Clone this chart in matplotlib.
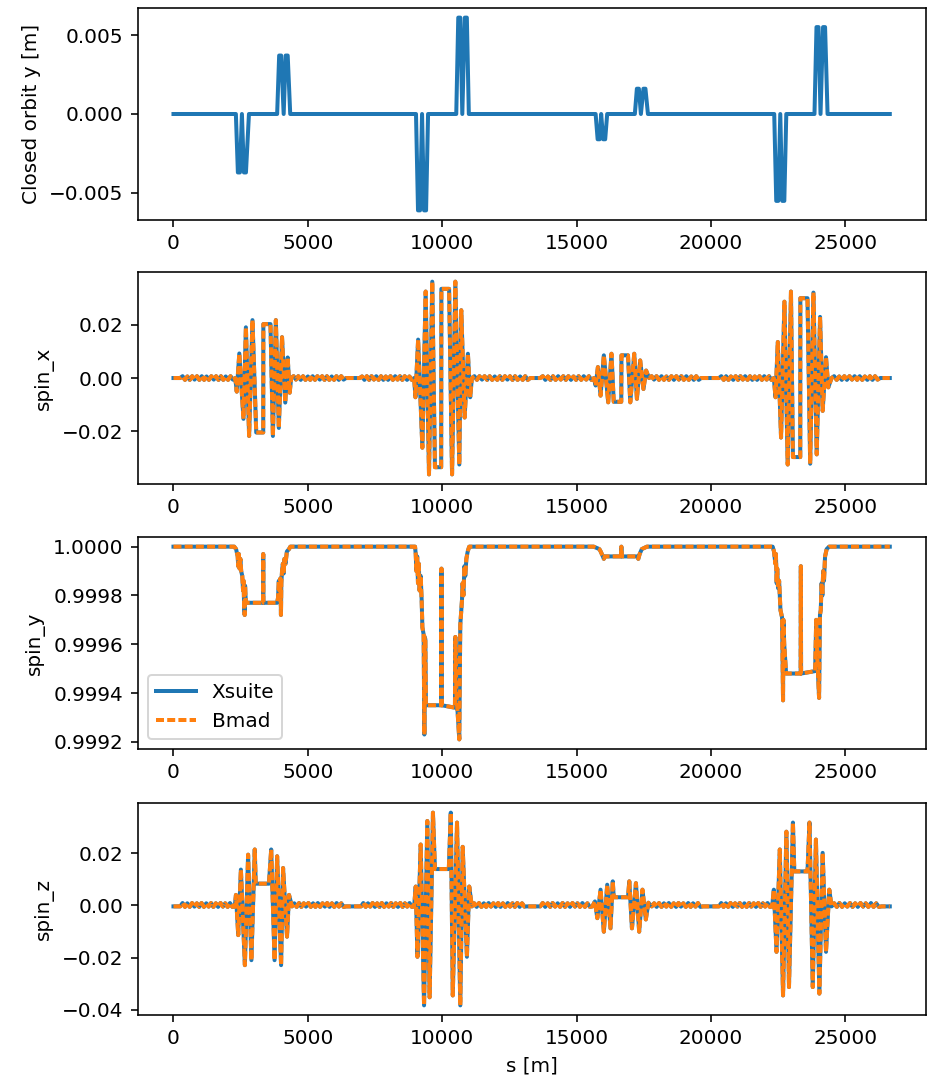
import numpy as np
import matplotlib
matplotlib.use("Agg")
import matplotlib.pyplot as plt

ring_end = 26659.0

# closed orbit y [m], four double bumps per side of the IRs
orbit_s = [0,
           2322, 2397, 2472, 2547, 2622, 2697, 2809,
           3858, 3933, 4008, 4101, 4176, 4251, 4345,
           9026, 9101, 9176, 9251, 9326, 9401, 9475,
           10524, 10599, 10674, 10749, 10843, 10918, 10992,
           15711, 15786, 15860, 15917, 15992, 16067, 16141,
           17171, 17246, 17321, 17396, 17490, 17565, 17658,
           22358, 22433, 22508, 22583, 22658, 22733, 22807,
           23856, 23931, 24006, 24081, 24175, 24250, 24343,
           ring_end]
orbit_y = [0,
           0, -0.0037, -0.0037, 0, -0.0037, -0.0037, 0,
           0, 0.0037, 0.0037, 0, 0.0037, 0.0037, 0,
           0, -0.0061, -0.0061, 0, -0.0061, -0.0061, 0,
           0, 0.0061, 0.0061, 0, 0.0061, 0.0061, 0,
           0, -0.0016, -0.0016, 0, -0.0016, -0.0016, 0,
           0, 0.0016, 0.0016, 0, 0.0016, 0.0016, 0,
           0, -0.0055, -0.0055, 0, -0.0055, -0.0055, 0,
           0, 0.0055, 0.0055, 0, 0.0055, 0.0055, 0,
           0]

# ---------------- spin_x ----------------
sx_ir2_s = [2300, 2355, 2450, 2605, 2695, 2815, 2940, 3080, 3340, 3345,
            3610, 3700, 3810, 3920, 4040, 4160, 4250, 4325, 4380]
sx_ir2_v = [0, -0.0051, 0.0092, -0.0153, 0.0190, -0.0217, 0.0217, -0.0204, -0.0204, 0.0202,
            0.0202, -0.0217, 0.0217, -0.0187, 0.0153, -0.0092, 0.0077, -0.0055, 0]
sx_ir4_s = [8957, 9005, 9105, 9263, 9385, 9510, 9631, 9731, 9963, 9970,
            10258, 10368, 10490, 10637, 10711, 10836, 10958, 11043, 11105]
sx_ir4_v = [0, -0.0072, 0.0144, -0.0261, 0.0324, -0.0361, 0.0361, -0.0334, -0.0334, 0.0334,
            0.0334, -0.0361, 0.0361, -0.0324, 0.0254, -0.0148, 0.0091, -0.0072, 0]
sx_ir6_s = [15650, 15711, 15796, 15895, 16017, 16179, 16301, 16385, 16665, 16672,
            16916, 17001, 17148, 17248, 17369, 17491, 17590, 17700]
sx_ir6_v = [0, -0.0028, 0.0041, -0.0066, 0.0085, -0.0091, 0.0091, -0.0089, -0.0089, 0.0085,
            0.0085, -0.0091, 0.0091, -0.0078, 0.0066, -0.0041, 0.0028, 0]
sx_ir8_s = [22343, 22406, 22491, 22612, 22738, 22859, 22981, 23054, 23327, 23330,
            23596, 23696, 23817, 23939, 24064, 24160, 24285, 24370, 24492]
sx_ir8_v = [0, -0.0072, 0.0135, -0.0223, 0.0286, -0.0324, 0.0324, -0.0296, -0.0296, 0.0299,
            0.0299, -0.0321, 0.0320, -0.0286, 0.0229, -0.0123, 0.0078, -0.0035, 0]

# small wiggle in the arcs
sx_arc1 = [0, 0.0007, -0.0007, 0.0006, -0.0007, 0.0007, -0.0006, 0.0007, -0.0007, 0.0007, -0.0007, 0.0006,
           -0.0007, 0.0007, -0.0006, 0.0007, -0.0007, 0.0007, -0.0007, 0.0006, -0.0007, 0.0007, -0.0006, 0]
sx_arc2 = [0, 0.0007, -0.0006, 0.0007, -0.0007, 0.0007, -0.0007, 0.0006, -0.0007, 0.0007, -0.0007, 0.0007,
           -0.0006, 0.0007, -0.0007, 0.0007, -0.0007, 0.0006, -0.0007, 0.0007, -0.0007, 0.0007, -0.0006, 0]
sx_arc3 = [0, 0.0006, -0.0007, 0.0007, -0.0007, 0.0007, -0.0006, 0.0007, -0.0007, 0.0007, -0.0007, 0.0006,
           -0.0007, 0.0007, -0.0007, 0.0007, -0.0006, 0.0007, -0.0007, 0.0007, -0.0007, 0.0006, -0.0007, 0]
sx_arc4 = [0, 0.0007, -0.0007, 0.0007, -0.0006, 0.0007, -0.0007, 0.0007, -0.0007, 0.0006, -0.0007, 0.0007,
           -0.0007, 0.0007, -0.0006, 0.0007, -0.0007, 0.0007, -0.0007, 0.0006, -0.0007, 0.0007, -0.0007, 0]
sx_arc5 = [0, 0.0007, -0.0007, 0.0006, -0.0007, 0.0007, -0.0007, 0.0007, -0.0006, 0.0007, -0.0007,
           0.0007, -0.0007, 0.0006, -0.0007, 0.0007, -0.0007, 0.0007, -0.0006, 0.0007, -0.0007, 0]
sx_arc6 = [0, 0.0007, -0.0006, 0.0007, -0.0007, 0.0007, -0.0007, 0.0006, -0.0007, 0.0007, -0.0007,
           0.0007, -0.0006, 0.0007, -0.0007, 0.0007, -0.0007, 0.0006, -0.0007, 0.0007, -0.0007, 0]
sx_arc7 = [0, 0.0007, -0.0007, 0.0007, -0.0007, 0.0006, -0.0007, 0.0007, -0.0007, 0.0007, -0.0006, 0.0007,
           -0.0007, 0.0007, -0.0007, 0.0006, -0.0007, 0.0007, -0.0007, 0.0007, -0.0006, 0.0007, -0.0007, 0]
sx_arc8 = [0, 0.0007, -0.0007, 0.0006, -0.0007, 0.0007, -0.0007, 0.0007, -0.0006, 0.0007,
           -0.0007, 0.0007, -0.0007, 0.0006, -0.0007, 0.0007, -0.0007, 0.0007, -0.0006, 0]
sx_arc_ends = [(250, 2300), (4380, 6420), (6930, 8957), (11105, 13280),
               (13650, 15650), (17700, 19640), (20300, 22343), (24492, 26300)]

# ---------------- spin_y ----------------
sy_ir2_s = [2260, 2330, 2390, 2410, 2430, 2460, 2490, 2520, 2560, 2590, 2610, 2630, 2650, 2665, 2690, 2720,
            3335, 3340, 3345, 3860, 3890, 3920, 3950, 3980, 4000, 4015, 4040, 4070, 4100, 4130, 4170,
            4220, 4300, 4350]
sy_ir2_v = [1.0, 0.99999, 0.99996, 0.99992, 0.99997, 0.99991, 0.99995, 0.99990, 0.99988, 0.99982, 0.99986,
            0.99975, 0.99972, 0.99984, 0.99978, 0.99977, 0.99977, 0.99997, 0.99977, 0.99977, 0.99979,
            0.99986, 0.99981, 0.99987, 0.99972, 0.99985, 0.99990, 0.99993, 0.99989, 0.99995, 0.99993,
            0.99998, 0.99999, 1.0]
sy_ir4_s = [8990, 9016, 9040, 9070, 9100, 9130, 9160, 9200, 9237, 9263, 9310, 9337, 9350, 9375, 9395,
            9965, 9974, 9983, 10475, 10490, 10530, 10637, 10674, 10737, 10760, 10790, 10830, 10860,
            10900, 10950, 11006]
sy_ir4_v = [1.0, 0.99997, 0.99990, 0.99996, 0.99985, 0.99993, 0.99982, 0.99988, 0.99978, 0.99967, 0.99964,
            0.99923, 0.99963, 0.99962, 0.99935, 0.99935, 0.99991, 0.99935, 0.99934, 0.99963, 0.99940,
            0.99921, 0.99968, 0.99978, 0.99985, 0.99980, 0.99992, 0.99988, 0.99995, 0.99998, 1.0]
sy_ir6_s = [15640, 15850, 15900, 15980, 16017, 16050, 16080, 16660, 16669, 16678, 17250, 17300, 17350,
            17430, 17620]
sy_ir6_v = [1.0, 0.99999, 0.99998, 0.99996, 0.99995, 0.99996, 0.99996, 0.99996, 1.0, 0.99996, 0.99996,
            0.99995, 0.99997, 0.99999, 1.0]
sy_ir8_s = [22300, 22350, 22400, 22420, 22450, 22470, 22500, 22540, 22590, 22650, 22686, 22700, 22730,
            22800, 23340, 23349, 23358, 23880, 23920, 23960, 24027, 24060, 24090, 24120, 24150, 24180,
            24210, 24250, 24310, 24400]
sy_ir8_v = [1.0, 0.99998, 0.99993, 0.99997, 0.99985, 0.99991, 0.99983, 0.99986, 0.99974, 0.99971, 0.99937,
            0.99970, 0.99960, 0.99948, 0.99948, 0.99992, 0.99948, 0.99949, 0.99970, 0.99955, 0.99938,
            0.99972, 0.99974, 0.99985, 0.99980, 0.99990, 0.99986, 0.99996, 0.99999, 1.0]

# ---------------- spin_z ----------------
sz_ir2_s = [2280, 2325, 2410, 2509, 2657, 2778, 2900, 3025, 3062, 3552, 3637, 3762, 3858, 4005, 4079,
            4226, 4300, 4410]
sz_ir2_v = [-0.0004, 0.0040, -0.0114, 0.0137, -0.0229, 0.0194, -0.0210, 0.0214, 0.0083, 0.0083, 0.0214,
            -0.0210, 0.0188, -0.0229, 0.0143, -0.0120, 0.0040, -0.0004]
sz_ir4_s = [8957, 9016, 9079, 9200, 9326, 9447, 9532, 9657, 9731, 10247, 10321, 10394, 10553, 10674,
            10763, 10921, 11006, 11105]
sz_ir4_v = [-0.0004, 0.0072, -0.0197, 0.0233, -0.0383, 0.0323, -0.0352, 0.0355, 0.0139, 0.0139, 0.0355,
            -0.0345, 0.0317, -0.0383, 0.0224, -0.0197, 0.0072, -0.0004]
sz_ir6_s = [15589, 15685, 15774, 15895, 16017, 16142, 16264, 16349, 16385, 16916, 16964, 17063, 17211,
            17332, 17454, 17579, 17675, 17800]
sz_ir6_v = [-0.0004, 0.0015, -0.0049, 0.0060, -0.0101, 0.0079, -0.0088, 0.0092, 0.0031, 0.0031, 0.0092,
            -0.0088, 0.0085, -0.0101, 0.0060, -0.0054, 0.0010, -0.0004]
sz_ir8_s = [22281, 22343, 22443, 22565, 22686, 22811, 22907, 23054, 23106, 23596, 23670, 23792, 23910,
            24038, 24160, 24285, 24406, 24492]
sz_ir8_v = [-0.0004, 0.0060, -0.0178, 0.0214, -0.0345, 0.0282, -0.0313, 0.0317, 0.0130, 0.0130, 0.0317,
            -0.0313, 0.0252, -0.0338, 0.0201, -0.0178, 0.0060, -0.0004]

sz_arc1 = [-0.0004, 0.0009, -0.0006, 0.0008, -0.0006, 0.0009, -0.0005, 0.0008, -0.0006, 0.0009, -0.0006, 0.0008,
           -0.0005, 0.0009, -0.0006, 0.0008, -0.0006, 0.0009, -0.0005, 0.0008, -0.0006, 0.0009, -0.0006, -0.0004]
sz_arc2 = [-0.0004, 0.0008, -0.0006, 0.0009, -0.0006, 0.0008, -0.0005, 0.0009, -0.0006, 0.0008, -0.0006, 0.0009,
           -0.0006, 0.0008, -0.0005, 0.0009, -0.0006, 0.0008, -0.0006, 0.0009, -0.0005, 0.0008, -0.0006, -0.0004]
sz_arc3 = [-0.0004, 0.0009, -0.0006, 0.0008, -0.0005, 0.0009, -0.0006, 0.0008, -0.0006, 0.0009, -0.0006, 0.0008,
           -0.0005, 0.0009, -0.0006, 0.0008, -0.0006, 0.0009, -0.0006, 0.0008, -0.0005, 0.0009, -0.0006, -0.0004]
sz_arc4 = [-0.0004, 0.0008, -0.0006, 0.0009, -0.0006, 0.0008, -0.0006, 0.0009, -0.0005, 0.0008, -0.0006, 0.0009,
           -0.0006, 0.0008, -0.0006, 0.0009, -0.0005, 0.0008, -0.0006, 0.0009, -0.0006, 0.0008, -0.0005, -0.0004]
sz_arc5 = [-0.0004, 0.0009, -0.0006, 0.0008, -0.0006, 0.0009, -0.0005, 0.0008, -0.0006, 0.0009, -0.0006,
           0.0008, -0.0006, 0.0009, -0.0005, 0.0008, -0.0006, 0.0009, -0.0006, 0.0008, -0.0006, -0.0004]
sz_arc6 = [-0.0004, 0.0008, -0.0006, 0.0009, -0.0006, 0.0008, -0.0005, 0.0009, -0.0006, 0.0008, -0.0006,
           0.0009, -0.0005, 0.0008, -0.0006, 0.0009, -0.0006, 0.0008, -0.0005, 0.0009, -0.0006, -0.0004]
sz_arc7 = [-0.0004, 0.0009, -0.0006, 0.0008, -0.0006, 0.0009, -0.0006, 0.0008, -0.0005, 0.0009, -0.0006, 0.0008,
           -0.0006, 0.0009, -0.0005, 0.0008, -0.0006, 0.0009, -0.0006, 0.0008, -0.0005, 0.0009, -0.0006, -0.0004]
sz_arc8 = [-0.0004, 0.0008, -0.0006, 0.0009, -0.0006, 0.0008, -0.0005, 0.0009, -0.0006, 0.0008,
           -0.0006, 0.0009, -0.0005, 0.0008, -0.0006, 0.0009, -0.0006, 0.0008, -0.0006, -0.0004]
sz_arc_ends = [(250, 2280), (4410, 6420), (6980, 8957), (11105, 13150),
               (13650, 15589), (17800, 19700), (20300, 22281), (24492, 26350)]


def arc(ends, vals):
    return list(np.linspace(ends[0], ends[1], len(vals))), list(vals)


def assemble(pieces):
    s_all, v_all = [], []
    for s, v in pieces:
        s_all.extend(s)
        v_all.extend(v)
    return np.array(s_all, dtype=float), np.array(v_all, dtype=float)


def ring(start_val, irs, arcs, arc_ends):
    # arcs come in pairs around the straight sections without a burst
    pieces = [([0.0], [start_val]),
              arc(arc_ends[0], arcs[0]), irs[0],
              arc(arc_ends[1], arcs[1]), arc(arc_ends[2], arcs[2]), irs[1],
              arc(arc_ends[3], arcs[3]), arc(arc_ends[4], arcs[4]), irs[2],
              arc(arc_ends[5], arcs[5]), arc(arc_ends[6], arcs[6]), irs[3],
              arc(arc_ends[7], arcs[7]), ([ring_end], [start_val])]
    return assemble(pieces)


sx_s, sx_v = ring(0.0,
                  [(sx_ir2_s, sx_ir2_v), (sx_ir4_s, sx_ir4_v), (sx_ir6_s, sx_ir6_v), (sx_ir8_s, sx_ir8_v)],
                  [sx_arc1, sx_arc2, sx_arc3, sx_arc4, sx_arc5, sx_arc6, sx_arc7, sx_arc8], sx_arc_ends)
sz_s, sz_v = ring(-0.0004,
                  [(sz_ir2_s, sz_ir2_v), (sz_ir4_s, sz_ir4_v), (sz_ir6_s, sz_ir6_v), (sz_ir8_s, sz_ir8_v)],
                  [sz_arc1, sz_arc2, sz_arc3, sz_arc4, sz_arc5, sz_arc6, sz_arc7, sz_arc8], sz_arc_ends)
sy_s, sy_v = assemble([([0.0], [1.0]), (sy_ir2_s, sy_ir2_v), (sy_ir4_s, sy_ir4_v),
                       (sy_ir6_s, sy_ir6_v), (sy_ir8_s, sy_ir8_v), ([ring_end], [1.0])])

fig = plt.figure(figsize=(927 / 144, 1079 / 144), dpi=144)
left, width, height = 0.1485, 0.850, 0.1965
bottoms = [0.7961, 0.5514, 0.3058, 0.0593]
axs = [fig.add_axes([left, b, width, height]) for b in bottoms]

lw = 2.0
axs[0].plot(orbit_s, orbit_y, lw=lw)
axs[0].set_ylabel('Closed orbit y [m]')
axs[0].set_yticks([-0.005, 0.0, 0.005])

for ax, s, v, name in [(axs[1], sx_s, sx_v, 'spin_x'),
                       (axs[2], sy_s, sy_v, 'spin_y'),
                       (axs[3], sz_s, sz_v, 'spin_z')]:
    ax.plot(s, v, lw=lw, label='Xsuite')
    ax.plot(s, v, '--', lw=lw, dashes=(2.0, 0.8), label='Bmad')
    ax.set_ylabel(name)

axs[1].set_yticks([-0.02, 0.0, 0.02])
axs[2].set_yticks([0.9992, 0.9994, 0.9996, 0.9998, 1.0])
axs[2].ticklabel_format(axis='y', useOffset=False)
axs[3].set_yticks([-0.04, -0.02, 0.0, 0.02])
axs[2].legend(loc='lower left')
axs[3].set_xlabel('s [m]')

for ax in axs:
    ax.set_xticks([0, 5000, 10000, 15000, 20000, 25000])

fig.savefig('out.png', dpi=144)
